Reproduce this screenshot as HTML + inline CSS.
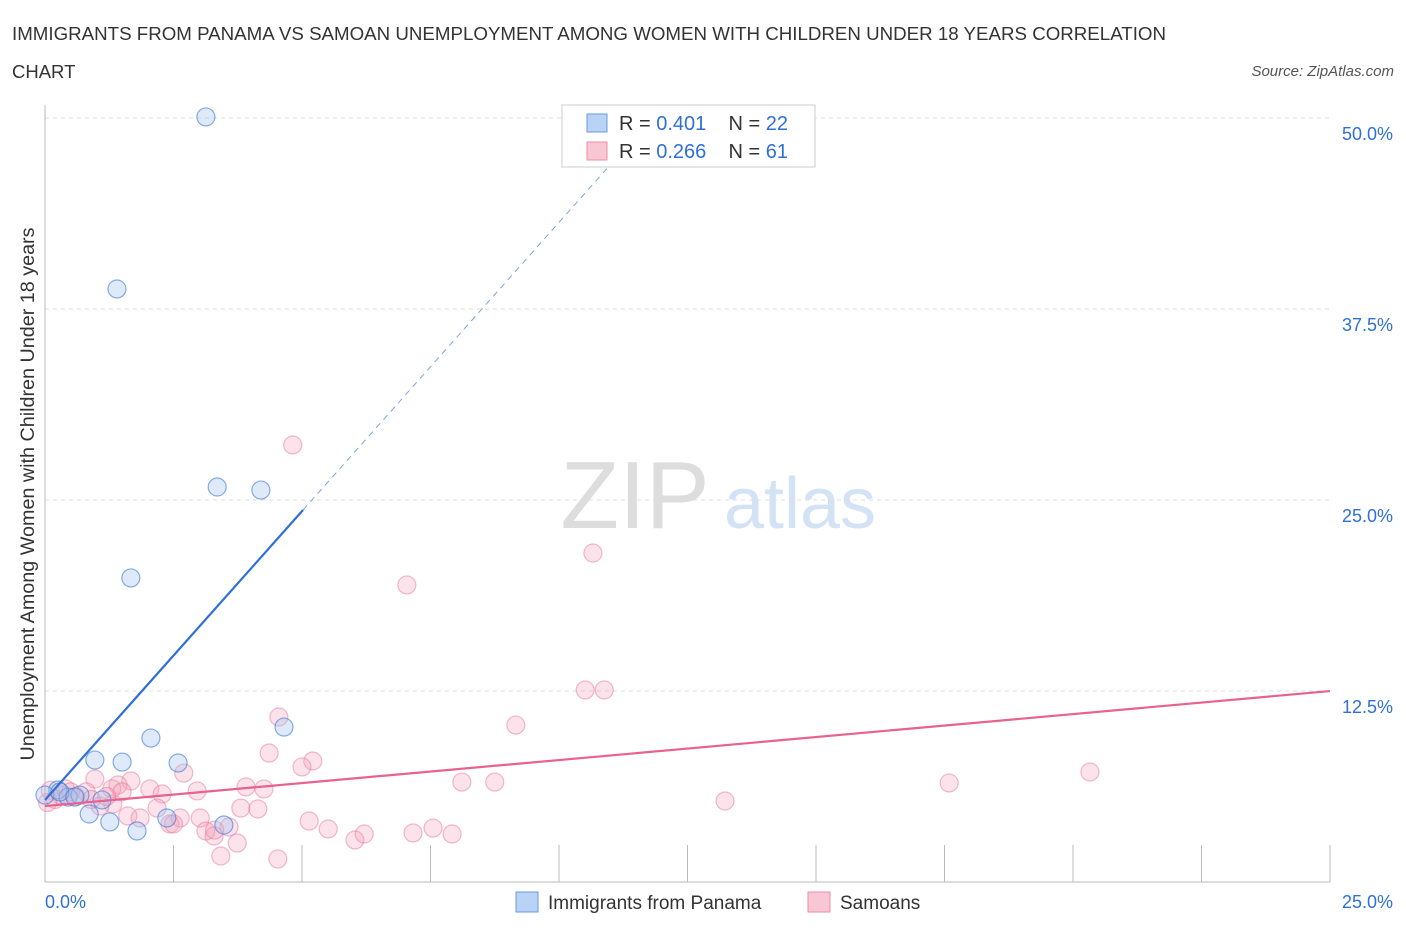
<!DOCTYPE html>
<html><head><meta charset="utf-8"><style>
body{margin:0;background:#fff;font-family:"Liberation Sans",sans-serif;}
svg text{font-family:"Liberation Sans",sans-serif;}
</style></head><body>
<svg id="c" width="1406" height="930" xmlns="http://www.w3.org/2000/svg">
<text x="12" y="40" font-size="18.5" fill="#333" textLength="1154" lengthAdjust="spacingAndGlyphs">IMMIGRANTS FROM PANAMA VS SAMOAN UNEMPLOYMENT AMONG WOMEN WITH CHILDREN UNDER 18 YEARS CORRELATION</text>
<text x="12" y="78" font-size="18.5" fill="#333">CHART</text>
<text x="1394" y="76" font-size="15" fill="#555" font-style="italic" text-anchor="end">Source: ZipAtlas.com</text>
<text x="635" y="528" font-size="96" fill="#ddd" font-family="Liberation Serif" text-anchor="middle">ZIP</text>
<text x="800" y="528" font-size="72" fill="#d4e2f5" text-anchor="middle">atlas</text>
<text transform="translate(34,494) rotate(-90)" font-size="19" fill="#333" text-anchor="middle" textLength="533" lengthAdjust="spacingAndGlyphs">Unemployment Among Women with Children Under 18 years</text>
<g id="grid"></g><g id="pts"></g><g id="lines"></g>
<g>
<rect x="562" y="105" width="253" height="62" fill="#fff" stroke="#ccc"/>
<rect x="587" y="114" width="20" height="18" fill="#b8d3f5" stroke="#6a9be0"/>
<rect x="587" y="142" width="20" height="18" fill="#f9c6d4" stroke="#ea8fab"/>
<text x="619" y="130" font-size="20" fill="#333">R = <tspan fill="#2f6fd8">0.401</tspan>&#160;&#160;&#160; N = <tspan fill="#2f6fd8">22</tspan></text>
<text x="619" y="158" font-size="20" fill="#333">R = <tspan fill="#2f6fd8">0.266</tspan>&#160;&#160;&#160; N = <tspan fill="#2f6fd8">61</tspan></text>
</g>
<g>
<rect x="516" y="892" width="22" height="20" fill="#b8d3f5" stroke="#6a9be0"/>
<text x="548" y="909" font-size="19" fill="#333">Immigrants from Panama</text>
<rect x="808" y="892" width="22" height="20" fill="#f9c6d4" stroke="#ea8fab"/>
<text x="840" y="909" font-size="19" fill="#333">Samoans</text>
</g>
</svg>
<script>
const xTicks=[0,2.5,5,7.5,10,12.5,15,17.5,20,22.5,25];
const yTicks=[12.5,25,37.5,50];
const yTickLabels=["12.5%","25.0%","37.5%","50.0%"];
const panamaX=[3.13,1.40,3.35,4.20,1.67,2.06,0.97,1.50,2.59,4.65,0.25,0.0,0.45,1.11,0.86,1.26,1.79,2.37,3.48,0.29,0.68,0.58];
const panamaY=[50.07,38.81,25.85,25.65,19.9,9.42,7.98,7.85,7.79,10.14,6.02,5.69,5.56,5.37,4.45,3.93,3.34,4.19,3.73,5.89,5.69,5.56];
const samoanX=[4.82,10.66,7.04,10.51,10.88,9.16,4.55,4.36,5.21,5.0,2.70,0.97,1.67,20.33,17.59,8.11,8.75,13.23,3.91,4.26,2.96,2.04,2.28,1.42,1.32,1.07,1.61,1.85,2.18,2.63,2.43,3.02,3.13,3.29,3.58,3.74,3.42,3.81,4.14,4.53,5.14,5.51,6.03,6.21,7.16,7.55,7.92,0.1,0.2,0.3,0.4,0.5,0.6,0.8,1.3,1.5,1.2,3.3,2.5,0.9,0.05];
const samoanY=[28.6,21.53,19.44,12.57,12.57,10.27,10.8,8.44,7.92,7.53,7.13,6.74,6.61,7.2,6.48,6.54,6.54,5.3,6.22,6.09,5.96,6.09,5.76,6.35,5.1,4.97,4.32,4.19,4.84,4.19,3.8,4.19,3.34,3.01,3.6,2.55,1.7,4.84,4.78,1.51,3.99,3.47,2.75,3.14,3.21,3.53,3.14,6.0,5.4,5.7,6.1,5.9,5.6,5.9,6.1,5.9,5.6,3.4,3.8,5.4,5.2];
const panamaTrend=[5.37,3.78];
const samoanTrend=[4.97,0.301];
const NS="http://www.w3.org/2000/svg";
const sx=v=>45+v*51.4, sy=v=>882-v*15.28;
function mk(t,a,p){const e=document.createElementNS(NS,t);for(const k in a)e.setAttribute(k,a[k]);document.getElementById(p).appendChild(e);return e;}
yTicks.forEach((t,i)=>{
 const l=mk('line',{x1:45,x2:1330,y1:sy(t),y2:sy(t),stroke:'#ddd','stroke-dasharray':'4,4'},'grid');
 
 
 const tx=mk('text',{x:1393,y:sy(t)+22,'font-size':18,fill:'#2f6fd8','text-anchor':'end'},'grid');
 tx.textContent=yTickLabels[i];
 
 
});
const ax=mk('line',{x1:45,x2:1330,y1:882,y2:882,stroke:'#bbb'},'grid');


const ay=mk('line',{x1:45,x2:45,y1:105,y2:882,stroke:'#bbb'},'grid');


xTicks.forEach(t=>{
 const l=mk('line',{x1:sx(t),x2:sx(t),y1:845,y2:882,stroke:'#bbb'},'grid');
 
 
});
const x0=mk('text',{x:45,y:908,'font-size':18,fill:'#2f6fd8'},'grid');x0.textContent='0.0%';


const x1=mk('text',{x:1393,y:908,'font-size':18,fill:'#2f6fd8','text-anchor':'end'},'grid');x1.textContent='25.0%';


samoanX.forEach((v,i)=>{
 const c=mk('circle',{cx:sx(v),cy:sy(samoanY[i]),r:9,fill:'rgba(244,160,185,0.3)',stroke:'rgba(230,120,155,0.5)','stroke-width':1.2},'pts');
 
 
});
panamaX.forEach((v,i)=>{
 const c=mk('circle',{cx:sx(v),cy:sy(panamaY[i]),r:9,fill:'rgba(160,195,240,0.35)',stroke:'rgba(60,120,210,0.6)','stroke-width':1.2},'pts');
 
 
});
const pe=5.02;
const bl=mk('line',{x1:sx(0),y1:sy(panamaTrend[0]),x2:sx(pe),y2:sy(panamaTrend[0]+panamaTrend[1]*pe),stroke:'#2f6fd8','stroke-width':2.2},'lines');


const de=11.3;
const bd=mk('line',{x1:sx(pe),y1:sy(panamaTrend[0]+panamaTrend[1]*pe),x2:sx(de),y2:sy(panamaTrend[0]+panamaTrend[1]*de),stroke:'#7aa6e0','stroke-width':1,'stroke-dasharray':'6,5'},'lines');


const pl=mk('line',{x1:sx(0),y1:sy(samoanTrend[0]),x2:sx(25),y2:sy(samoanTrend[0]+samoanTrend[1]*25),stroke:'#e8628f','stroke-width':2.2},'lines');


</script>
</body></html>
